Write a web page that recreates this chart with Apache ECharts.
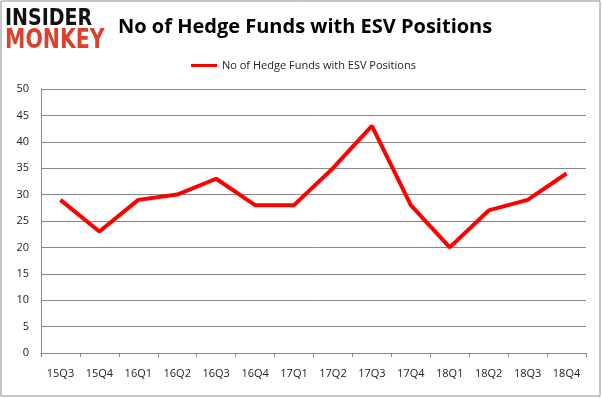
<!DOCTYPE html>
<html>
<head>
<meta charset="utf-8">
<script src="https://cdn.jsdelivr.net/npm/echarts@6/dist/echarts.min.js"></script>
<style>
  html, body { margin: 0; padding: 0; background: #fff; }
  #chart { width: 602px; height: 398px; }
</style>
</head>
<body>
<div id="chart"></div>
<script>
// quarters and hedge fund counts
var quarters = ["15Q3", "15Q4", "16Q1", "16Q2", "16Q3", "16Q4", "17Q1", "17Q2", "17Q3", "17Q4", "18Q1", "18Q2", "18Q3", "18Q4"];
var funds = [29, 23, 29, 30, 33, 28, 28, 35, 43, 28, 20, 27, 29, 34];
var seriesName = "No of Hedge Funds with ESV Positions";

var chart = echarts.init(document.getElementById("chart"));
chart.setOption({
    animation: false,
    title: {
        text: seriesName,
        left: 113,
        top: 12,
        textStyle: { fontFamily: "Open Sans", fontSize: 20, fontWeight: "bold", color: "#000" }
    },
    legend: {
        top: 55,
        left: 186,
        itemWidth: 26,
        itemHeight: 3,
        itemGap: 4,
        icon: "rect",
        textStyle: { fontFamily: "Open Sans", fontSize: 11, color: "#222" },
        data: [seriesName]
    },
    graphic: [
        { type: "rect", shape: { x: 1, y: 1, width: 599, height: 395 }, style: { fill: "none", stroke: "#8c8c8c", lineWidth: 1 } },
        // logo
        { type: "text", x: 5, y: 18.5, scaleY: 1.25, style: { text: "INSIDER", verticalAlign: "middle", fontFamily: "DejaVu Sans", fontWeight: "bold", fontSize: 19, fill: "#111" } },
        { type: "text", x: 5, y: 41, scaleY: 1.3, style: { text: "MONKEY", verticalAlign: "middle", fontFamily: "DejaVu Sans", fontWeight: "bold", fontSize: 20.5, fill: "#d9412c" } }
    ],
    grid: { left: 41, right: 16, top: 89, bottom: 45, containLabel: false },
    xAxis: {
        type: "category",
        data: quarters,
        boundaryGap: true,
        axisLine: { lineStyle: { color: "#888" } },
        axisTick: { show: true, interval: 0, length: 4, lineStyle: { color: "#888" } },
        axisLabel: { interval: 0, margin: 15, fontFamily: "Open Sans", fontSize: 11, color: "#222" }
    },
    yAxis: {
        type: "value",
        min: 0,
        max: 50,
        interval: 5,
        axisLine: { show: true, lineStyle: { color: "#888" } },
        axisTick: { show: false },
        splitLine: { lineStyle: { color: "#888" } },
        axisLabel: { margin: 12, fontFamily: "Open Sans", fontSize: 11, color: "#222" }
    },
    series: [{
        name: seriesName,
        type: "line",
        data: funds,
        symbol: "none",
        lineStyle: { color: "#ff0000", width: 4 },
        itemStyle: { color: "#ff0000" }
    }]
});
</script>
</body>
</html>
